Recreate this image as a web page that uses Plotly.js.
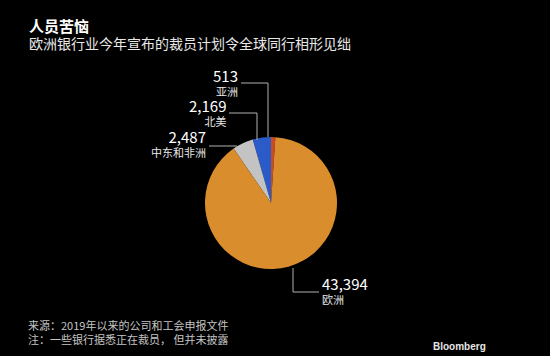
<!DOCTYPE html>
<html>
<head>
<meta charset="utf-8">
<script src="https://cdn.plot.ly/plotly-3.0.1.min.js"></script>
<style>html,body{margin:0;padding:0;background:#000;}#chart{width:550px;height:356px;}</style>
</head>
<body>
<div id="chart"></div>
<script>
const regions = ["亚洲", "北美", "中东和非洲", "欧洲"];
const jobCuts = [513, 2169, 2487, 43394];
const sliceColors = ["#c94a26", "#2a5bc9", "#c3c3c3", "#da8d2c"];

const W = 550, H = 356;
const px = x => x / W;
const py = y => 1 - y / H;
const fmt = v => v.toLocaleString("en-US");

// label layout: text x, text block centre y, leader line points (pixels)
const labelLayout = [
  {x: 239, anchor: "right", y: 82, path: [[241, 83], [268, 83], [268, 137]]},
  {x: 227, anchor: "right", y: 112, path: [[229, 113], [257, 113], [257, 140]]},
  {x: 207, anchor: "right", y: 143, path: [[209, 146], [237, 146]]},
  {x: 321, anchor: "left", y: 290, path: [[293, 268], [293, 292], [319, 292]]}
];

const annotations = [];
const shapes = [];
regions.forEach((r, i) => {
  const L = labelLayout[i];
  annotations.push({xref: "paper", yref: "paper", x: px(L.x), y: py(L.y), xanchor: L.anchor, yanchor: "middle",
    align: L.anchor, borderpad: 0,
    text: "<span style='font-size:15px;color:#ffffff'>" + fmt(jobCuts[i]) + "</span><br>" + r,
    showarrow: false, font: {size: 11, color: "#e6e6e6"}});
  const d = L.path.map((p, k) => (k ? "L" : "M") + px(p[0]) + "," + py(p[1])).join(" ");
  shapes.push({type: "path", xref: "paper", yref: "paper", path: d, line: {color: "#b0b0b0", width: 1}});
});

annotations.push(
  {xref: "paper", yref: "paper", x: px(27), y: py(25), xanchor: "left", yanchor: "middle", showarrow: false,
   text: "<b>人员苦恼</b>", font: {size: 15, color: "#ffffff"}},
  {xref: "paper", yref: "paper", x: px(27), y: py(43), xanchor: "left", yanchor: "middle", showarrow: false,
   text: "欧洲银行业今年宣布的裁员计划令全球同行相形见绌", font: {size: 14, color: "#e8e8e8"}},
  {xref: "paper", yref: "paper", x: px(27), y: py(332), xanchor: "left", yanchor: "middle", showarrow: false,
   align: "left", borderpad: 0,
   text: "来源：2019年以来的公司和工会申报文件<br>注：一些银行据悉正在裁员， 但并未披露", font: {size: 11, color: "#c4c4c4"}},
  {xref: "paper", yref: "paper", x: px(488), y: py(346), xanchor: "right", yanchor: "middle", showarrow: false,
   text: "<b>Bloomberg</b>", font: {size: 10, color: "#e6e6e6", family: "Liberation Sans, Arial, sans-serif"}}
);

const cx = 271, cy = 203, rad = 66;
const trace = {
  type: "pie",
  labels: regions,
  values: jobCuts,
  sort: false,
  direction: "counterclockwise",
  rotation: 0,
  marker: {colors: sliceColors, line: {width: 0}},
  textinfo: "none",
  hoverinfo: "label+value",
  domain: {x: [px(cx - rad), px(cx + rad)], y: [py(cy + rad), py(cy - rad)]}
};

const layout = {
  width: W, height: H,
  margin: {l: 0, r: 0, t: 0, b: 0},
  paper_bgcolor: "#000000",
  plot_bgcolor: "#000000",
  showlegend: false,
  font: {family: "Noto Sans CJK SC, Noto Sans, sans-serif", color: "#ffffff"},
  annotations: annotations,
  shapes: shapes
};

Plotly.newPlot("chart", [trace], layout, {displayModeBar: false, staticPlot: true});
</script>
</body>
</html>
